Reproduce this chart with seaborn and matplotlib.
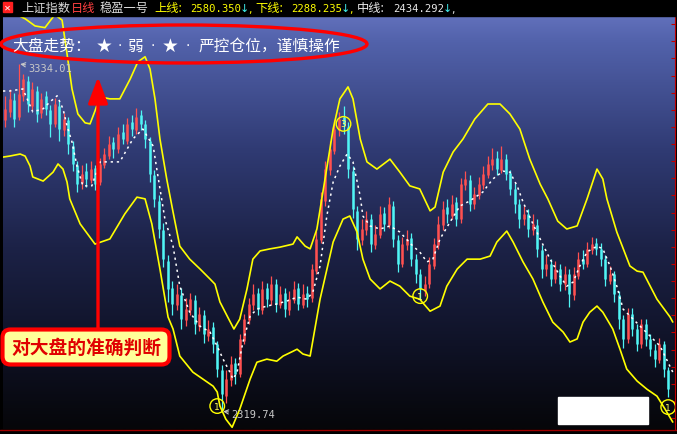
import numpy as np
import matplotlib
matplotlib.use('Agg')
import matplotlib.pyplot as plt
from matplotlib.colors import LinearSegmentedColormap
from matplotlib.patches import Ellipse, FancyBboxPatch, Rectangle
import seaborn as sns

sns.set_style('dark')
plt.rcParams['font.family'] = ['Noto Sans CJK SC', 'DejaVu Sans']
plt.rcParams['axes.unicode_minus'] = False

# daily candles (上证指数 日线)
opens = [3170,3195,3230,3180,3240,3285,3210,3255,3190,3240,
         3200,3160,3210,3140,3170,3095,3040,2985,3020,2995,
         3030,2990,3040,3065,3105,3085,3135,3110,3165,3140,
         3185,3160,3110,3010,2935,2850,2760,2680,2630,2660,
         2585,2615,2645,2570,2600,2540,2565,2515,2440,2365,
         2410,2460,2430,2525,2585,2630,2665,2615,2680,2645,
         2690,2630,2665,2615,2645,2680,2630,2665,2650,2730,
         2820,2935,3025,3080,3140,3180,3150,3020,2905,2820,
         2850,2880,2805,2835,2900,2865,2920,2820,2750,2805,
         2825,2765,2720,2670,2690,2745,2805,2865,2915,2890,
         2930,2880,2980,2995,2925,2950,2980,3010,3040,3060,
         3025,3055,3015,2970,2925,2880,2895,2850,2865,2790,
         2735,2750,2705,2735,2690,2720,2660,2715,2765,2750,
         2790,2810,2795,2765,2700,2720,2660,2590,2530,2605,
         2560,2515,2575,2530,2500,2470,2515,2440]
closes = [3203,3232,3173,3246,3290,3217,3261,3188,3232,3203,
          3159,3217,3144,3173,3100,3042,2983,3013,2998,3027,
          2983,3042,3071,3100,3086,3130,3115,3159,3144,3179,
          3159,3115,3013,2940,2852,2764,2677,2633,2662,2589,
          2618,2647,2574,2604,2545,2560,2516,2443,2370,2414,
          2457,2428,2530,2589,2633,2662,2618,2677,2647,2691,
          2633,2662,2618,2647,2677,2633,2662,2647,2735,2823,
          2940,3027,3086,3144,3173,3159,3027,2910,2823,2852,
          2881,2808,2837,2896,2867,2925,2823,2750,2808,2823,
          2764,2720,2677,2691,2750,2808,2867,2910,2896,2925,
          2881,2983,2998,2925,2954,2983,3013,3042,3056,3027,
          3056,3013,2969,2925,2881,2896,2852,2867,2794,2735,
          2750,2706,2735,2691,2720,2662,2720,2764,2750,2794,
          2808,2794,2764,2706,2720,2662,2589,2530,2604,2560,
          2516,2574,2530,2501,2472,2516,2443,2384]
highs = [3240,3262,3250,3334.01,3305,3300,3280,3270,3250,3255,
         3215,3235,3225,3190,3180,3110,3050,3040,3045,3050,
         3040,3060,3090,3125,3120,3150,3160,3175,3185,3205,
         3200,3170,3120,3025,2950,2870,2775,2700,2690,2680,
         2650,2665,2660,2625,2615,2585,2580,2525,2455,2440,
         2480,2475,2545,2605,2650,2690,2680,2700,2695,2715,
         2705,2685,2680,2670,2700,2695,2690,2685,2750,2845,
         2960,3050,3110,3170,3195,3210,3165,3035,2920,2880,
         2905,2895,2865,2920,2915,2945,2935,2835,2830,2850,
         2840,2780,2735,2715,2770,2825,2890,2935,2940,2950,
         2945,3000,3020,3010,2975,3005,3035,3065,3090,3080,
         3095,3070,3025,2985,2940,2920,2910,2895,2880,2805,
         2775,2765,2760,2750,2745,2735,2740,2785,2790,2815,
         2830,2825,2810,2775,2745,2730,2670,2600,2620,2620,
         2575,2590,2590,2545,2515,2535,2525,2450]
lows = [3150,3180,3150,3170,3225,3195,3200,3165,3175,3185,
        3120,3150,3110,3125,3070,3020,2960,2970,2975,2985,
        2965,2980,3030,3055,3060,3075,3100,3100,3125,3130,
        3140,3090,2990,2915,2825,2740,2640,2600,2615,2560,
        2570,2600,2545,2555,2520,2525,2490,2420,2319.74,2345,
        2395,2400,2420,2515,2575,2615,2600,2605,2625,2630,
        2610,2620,2595,2600,2635,2615,2620,2625,2640,2720,
        2810,2920,3010,3070,3125,3130,3000,2885,2790,2805,
        2835,2785,2795,2825,2845,2855,2800,2725,2740,2790,
        2745,2695,2645,2655,2680,2735,2795,2850,2870,2880,
        2860,2870,2965,2905,2910,2940,2970,3000,3025,3010,
        3015,2995,2950,2900,2855,2865,2830,2835,2770,2710,
        2715,2685,2695,2670,2675,2625,2645,2705,2735,2740,
        2780,2775,2745,2685,2690,2640,2560,2505,2520,2540,
        2495,2505,2510,2480,2450,2460,2420,2360]

# 稳盈一号 channel lines (上线 / 下线 / 中线)
up_x = [-0.5,2.2,4.4,6.6,8.8,11.0,12.6,13.7,14.8,16.1,17.7,18.8,19.9,21.0,23.2,25.4,27.7,29.4,31.0,32.1,
        33.2,34.3,35.8,37.2,38.7,40.9,43.2,45.4,46.5,47.6,49.2,50.7,52.0,53.6,54.9,56.5,58.7,60.9,63.8,64.7,
        66.5,67.6,69.1,70.9,72.7,74.2,76.0,77.1,78.7,80.2,82.4,85.3,87.5,89.7,91.9,94.2,95.3,97.1,99.3,101.5,
        104.1,107.0,109.7,111.9,114.1,116.3,118.6,120.3,122.5,124.5,126.8,129.0,131.2,132.5,133.4,135.6,138.5,140.1,141.4,144.5,
        147.4,148.0]
up_y = [3482,3480,3466,3445,3440,3478,3462,3363,3261,3188,3162,3159,3197,3238,3232,3232,3290,3340,3355,3319,
        3232,3115,2998,2902,2802,2764,2735,2706,2691,2639,2598,2560,2589,2677,2764,2788,2794,2799,2808,2829,
        2802,2794,2852,2998,3144,3232,3267,3232,3115,3048,3027,3056,3018,2978,2969,2905,2916,3018,3077,3115,
        3173,3217,3217,3188,3144,3056,2983,2940,2875,2852,2861,2940,3027,2998,2940,2843,2744,2729,2726,2647,
        2595,2580.350]
lo_x = [-0.5,1.0,3.3,4.4,5.5,6.1,8.4,10.6,11.7,12.8,13.7,14.3,16.6,19.9,23.2,26.5,29.2,31.0,32.5,34.3,
        36.1,37.2,38.7,41.6,43.8,46.1,47.0,47.6,48.9,50.3,52.0,54.3,55.8,58.0,60.2,61.6,63.8,64.7,66.0,67.6,
        69.8,72.7,74.9,76.4,78.0,79.3,80.9,83.1,85.3,87.5,89.7,91.9,94.2,96.4,97.9,100.2,102.4,105.3,107.5,109.0,
        111.2,112.6,114.8,117.0,119.2,121.4,123.7,125.2,126.8,128.1,129.6,131.2,132.5,134.7,136.3,137.8,140.1,142.3,144.5,146.3,
        148.0]
lo_y = [3062,3065,3071,3065,3036,3004,2992,3018,3042,3027,2989,2940,2867,2808,2823,2896,2945,2940,2867,2735,
        2595,2560,2481,2434,2414,2393,2376,2335,2297,2273,2326,2414,2463,2472,2466,2481,2495,2501,2487,2481,
        2647,2814,2881,2890,2843,2764,2706,2677,2700,2685,2656,2647,2612,2627,2685,2735,2764,2764,2773,2814,
        2846,2814,2756,2706,2639,2580,2551,2522,2531,2580,2609,2627,2609,2560,2501,2443,2408,2384,2364,2326,
        2288.235]
mid_x = [-0.5,1.0,3.9,6.1,8.4,9.9,11.5,12.8,13.7,14.8,15.9,17.2,19.2,21.0,23.2,25.4,28.3,30.5,32.8,33.6,
         35.4,37.2,38.7,40.9,43.2,45.4,47.0,48.3,49.8,50.5,51.4,52.7,54.3,55.8,58.0,60.2,62.5,64.7,66.9,68.2,
         69.8,71.3,72.7,74.2,75.8,77.1,78.7,79.3,80.9,83.1,85.3,87.5,90.4,91.9,93.5,94.8,96.4,98.6,100.8,103.0,
         105.9,108.1,110.4,111.9,113.5,114.8,117.0,118.6,120.8,123.0,124.5,125.9,127.4,129.0,131.2,132.5,134.1,135.6,137.0,139.2,
         141.4,143.0,145.2,148.0]
mid_y = [3255,3255,3261,3194,3203,3223,3241,3203,3153,3106,3036,2978,2978,3048,3048,3048,3115,3144,3094,3027,
         2881,2802,2685,2609,2568,2551,2510,2472,2434,2414,2434,2522,2598,2618,2627,2633,2642,2653,2647,2668,
         2744,2890,2989,3036,3071,3048,2948,2890,2861,2852,2861,2843,2802,2785,2756,2764,2823,2872,2919,2934,
         2960,2998,3021,3018,2978,2931,2867,2823,2764,2715,2685,2697,2744,2785,2802,2794,2744,2685,2618,2589,
         2560,2539,2510,2434.292]

# circled signals
sig_x = [47, 75, 92, 147]
sig_y = [2335, 3159, 2656, 2332]
sig_lbl = ['1', '3', '1', '1']

opens = np.array(opens, float)
closes = np.array(closes, float)
highs = np.array(highs, float)
lows = np.array(lows, float)
days = np.arange(len(closes))

W, H = 677, 435
fig = plt.figure(figsize=(W / 100, H / 100), dpi=100, facecolor='black')
ax = fig.add_axes([3 / W, 5 / H, 672 / W, 413 / H])
xlim = (-0.5, 148.5)
ylim = (2268, 3474)

# background gradient
bg = LinearSegmentedColormap.from_list('bg', [(0, '#6170bb'), (0.06, '#5262ab'), (0.32, '#303b74'),
                                              (0.56, '#1c2247'), (0.8, '#0f1226'), (1, '#060609')])
grad = np.linspace(0, 1, 256).reshape(-1, 1)
ax.imshow(grad, extent=[xlim[0], xlim[1], ylim[0], ylim[1]], aspect='auto', cmap=bg, zorder=0)

# candles
col = np.where(closes >= opens, '#ff5050', '#50f5f5')
ax.vlines(days, lows, highs, colors=col, lw=0.9, zorder=3)
ax.vlines(days, np.minimum(opens, closes), np.maximum(opens, closes), colors=col, lw=1.8, zorder=3)

# channel lines
sns.lineplot(x=up_x, y=up_y, color='#ffff00', lw=1.2, ax=ax, zorder=4, sort=False, estimator=None)
sns.lineplot(x=lo_x, y=lo_y, color='#ffff00', lw=1.2, ax=ax, zorder=4, sort=False, estimator=None)
sns.lineplot(x=mid_x, y=mid_y, color='white', lw=1.1, ls=(0, (1.5, 2.5)), ax=ax, zorder=4,
             sort=False, estimator=None)

# signal circles
ax.scatter(sig_x, sig_y, s=110, facecolors='none', edgecolors='#ffff00', lw=1.0, zorder=5)
for x, y, t in zip(sig_x, sig_y, sig_lbl):
    ax.text(x, y, t, color='#ffff60', fontsize=6.5, ha='center', va='center', zorder=6,
            family='DejaVu Sans')

# high / low labels
hi = int(np.argmax(highs))
lo = int(np.argmin(lows))
ax.annotate(f'{highs[hi]:.2f}', xy=(hi, highs[hi]), xytext=(10, -4), textcoords='offset pixels',
            color='#c8c8c8', fontsize=7.5, family='DejaVu Sans Mono', va='center', zorder=6,
            arrowprops=dict(arrowstyle='->', color='#c8c8c8', lw=0.8, shrinkA=0, shrinkB=1))
ax.annotate(f'{lows[lo]:.2f}', xy=(lo, lows[lo]), xytext=(10, -3), textcoords='offset pixels',
            color='#c8c8c8', fontsize=7.5, family='DejaVu Sans Mono', va='center', zorder=6,
            arrowprops=dict(arrowstyle='->', color='#c8c8c8', lw=0.8, shrinkA=0, shrinkB=1))

ax.set_xlim(*xlim)
ax.set_ylim(*ylim)
ax.set_xlabel('')
ax.set_ylabel('')
for s in ['top', 'left', 'bottom']:
    ax.spines[s].set_visible(False)
ax.spines['right'].set_color('#c00000')
ax.yaxis.tick_right()
ax.set_yticks(np.arange(2300, 3474, 50))
ax.tick_params(axis='y', colors='#c00000', length=3, direction='in', labelright=False)
ax.set_xticks([])

# overlay in pixel coordinates for header and notes
ov = fig.add_axes([0, 0, 1, 1])
ov.set_xlim(0, W)
ov.set_ylim(H, 0)
ov.axis('off')
ov.patch.set_alpha(0)

ov.add_patch(Rectangle((0, 0), W, 17, color='black'))
ov.plot([0, W], [430.5, 430.5], color='#a00000', lw=1)
ov.add_patch(Rectangle((3, 3), 9, 10, fc='#ff2020', ec='#ff2020'))
ov.text(7.5, 8, '✕', color='white', fontsize=6, ha='center', va='center', family='DejaVu Sans')

hy = 8.5
ov.text(21, hy, '上证指数', color='#d8d8d8', fontsize=8.8, va='center')
ov.text(71, hy, '日线', color='#ff4040', fontsize=8.8, va='center')
ov.text(100, hy, '稳盈一号', color='#d8d8d8', fontsize=8.8, va='center')
parts = [(154, '上线:', up_y[-1], '#ffff00'), (255, '下线:', lo_y[-1], '#ffff00'),
         (357, '中线:', mid_y[-1], '#e8e8e8')]
for x0, name, v, c in parts:
    ov.text(x0, hy, name, color=c, fontsize=8.8, va='center')
    ov.text(x0 + 36, hy, f'{v:.3f}', color=c, fontsize=7.6, va='center', family='DejaVu Sans Mono')
    ov.text(x0 + 86, hy, '↓', color='#40f0f0', fontsize=8, va='center', family='DejaVu Sans')
    ov.text(x0 + 94, hy + 1, ',', color=c, fontsize=8, va='center', family='DejaVu Sans')

# market note in red ellipse
ov.add_patch(Ellipse((184, 45), 366, 38, fill=False, ec='#ff0000', lw=2.4))
ty = 46
for x0, t in [(12, '大盘走势：'), (199, '严控仓位，谨慎操作'), (127, '弱')]:
    ov.text(x0, ty, t, color='white', fontsize=11.3, va='center')
for x0, t, fs in [(104, '★', 13.5), (120, '·', 10), (153, '·', 10), (170, '★', 13.5), (188, '·', 10)]:
    ov.text(x0, ty, t, color='white', fontsize=fs, ha='center', va='center', family='DejaVu Sans')

# red arrow and label box
ov.annotate('', xy=(98, 78), xytext=(98, 330),
            arrowprops=dict(arrowstyle='-|>,head_length=0.8,head_width=0.3', color='#ff0000',
                            lw=2.4, mutation_scale=20, shrinkA=0, shrinkB=0))
ov.add_patch(FancyBboxPatch((2.5, 330.5), 167, 35, boxstyle='round,pad=0,rounding_size=8',
                            fc='#ffff99', ec='#ff0000', lw=3))
ov.text(86, 348, '对大盘的准确判断', color='#e00000', fontsize=13.5, fontweight='bold',
        ha='center', va='center')

ov.add_patch(Rectangle((558, 398), 90, 27, color='white'))

fig.savefig('out.png', dpi=100, facecolor='black')
